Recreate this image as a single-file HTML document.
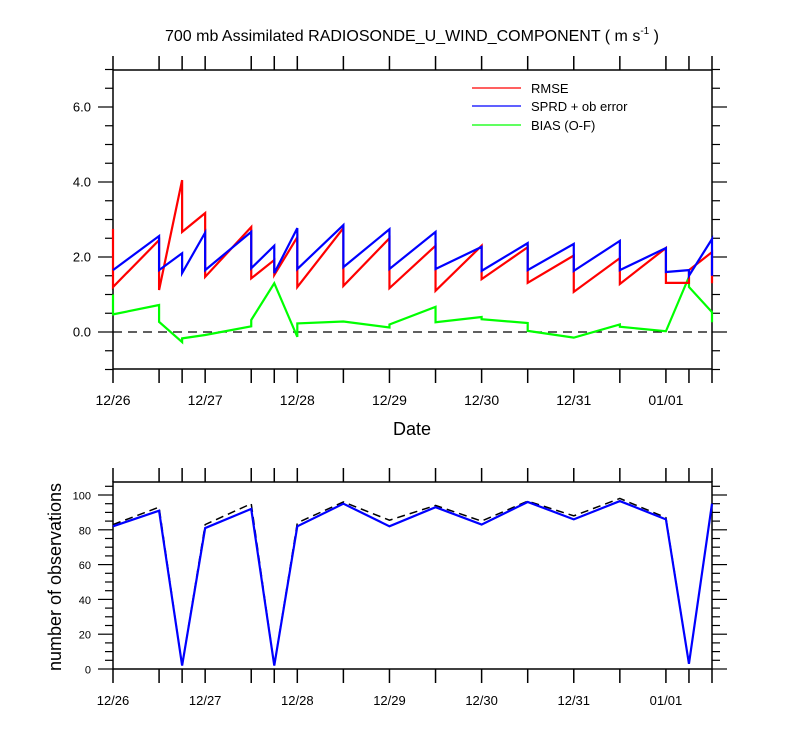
<!DOCTYPE html>
<html><head><meta charset="utf-8">
<style>
body{margin:0;background:#fff;}
svg{display:block;font-family:"Liberation Sans",Arial,sans-serif;}
</style></head>
<body>
<svg id="chart" width="800" height="750" viewBox="0 0 800 750">
<text x="412" y="41" font-size="16" text-anchor="middle">700 mb Assimilated RADIOSONDE_U_WIND_COMPONENT ( m s<tspan font-size="10" dy="-7">-1</tspan><tspan dy="7"> )</tspan></text>
<g id="topPanel"></g>
<g id="botPanel"></g>
<text x="412" y="435" font-size="18" text-anchor="middle">Date</text>
<text transform="translate(61,577) rotate(-90)" font-size="18" text-anchor="middle">number of observations</text>
<g>
<line x1="472" y1="88" x2="521" y2="88" stroke="#f00" stroke-width="1.2"/>
<text x="531" y="93" font-size="13">RMSE</text>
<line x1="472" y1="106" x2="521" y2="106" stroke="#00f" stroke-width="1.2"/>
<text x="531" y="111" font-size="13">SPRD + ob error</text>
<line x1="472" y1="125" x2="521" y2="125" stroke="#0f0" stroke-width="1.2"/>
<text x="531" y="130" font-size="13">BIAS (O-F)</text>
</g>
</svg>
<script>
const times = [0,0.5,0.75,1,1.5,1.75,2,2.5,3,3.5,4,4.5,5,5.5,6,6.25,6.5];
const rmseFcst = [2.75,2.45,4.05,3.17,2.8,1.92,2.53,2.77,2.5,2.3,2.3,2.26,2.04,1.97,2.24,1.31,2.13];
const rmseAnl  = [1.2,1.12,2.67,1.47,1.43,1.52,1.2,1.23,1.17,1.1,1.41,1.31,1.07,1.28,1.31,1.65,1.3];
const sprdFcst = [1.65,2.56,2.1,2.65,2.67,2.3,2.77,2.85,2.74,2.67,2.27,2.37,2.35,2.43,2.24,1.65,2.48];
const sprdAnl  = [1.65,1.65,1.57,1.65,1.7,1.57,1.68,1.73,1.68,1.68,1.63,1.65,1.63,1.65,1.6,1.5,1.5];
const biasFcst = [1.0,0.72,-0.27,-0.08,0.15,1.3,-0.13,0.28,0.12,0.67,0.4,0.24,-0.15,0.2,0.02,1.47,0.53];
const biasAnl  = [0.47,0.27,-0.17,-0.08,0.32,1.3,0.23,0.28,0.2,0.26,0.34,0.03,-0.15,0.14,0.02,1.2,0.26];
const obsAssim = [82,91,2,81,92,2,82,95,82,93,83,96,86,96.5,86,3,95];
const obsTotal = [83,93,2,83,95,2,84,96,85.5,94,85,96.5,88,98,87,3,95];
const dayLabels = ["12/26","12/27","12/28","12/29","12/30","12/31","01/01"];
const topTicks = ["0.0","2.0","4.0","6.0"];
const botTicks = ["0","20","40","60","80","100"];

const NS="http://www.w3.org/2000/svg";
const X0=113,X1=712;
const xs=t=>X0+(X1-X0)*t/6.5;
const yTop=v=>332-37.5*v;
const yBot=v=>669-1.74*v;
function mk(parent,tag,attrs){const e=document.createElementNS(NS,tag);for(const k in attrs)e.setAttribute(k,attrs[k]);parent.appendChild(e);return e;}

function axes(g,yT,yB,yf,tickLabels,minorStep,vmin,vmax,fs,yfs,labY){
  const fr=mk(g,'rect',{x:X0,y:yT,width:X1-X0,height:yB-yT,fill:'none',stroke:'#000','stroke-width':1.5});
  
  
  times.forEach(t=>{
    const x=xs(t);
    const a=mk(g,'line',{x1:x,x2:x,y1:yT-14,y2:yT,stroke:'#000','stroke-width':1.5});
    
    
    const b=mk(g,'line',{x1:x,x2:x,y1:yB,y2:yB+14,stroke:'#000','stroke-width':1.5});
    
    
  });
  dayLabels.forEach((d,i)=>{
    const tx=mk(g,'text',{x:xs(i),y:labY,'font-size':fs,'text-anchor':'middle'});
    tx.textContent=d;
    
    
  });
  for(let v=vmin;v<=vmax+1e-9;v+=minorStep){
    const y=yf(v);
    const major=tickLabels.some(l=>Math.abs(parseFloat(l)-v)<1e-6);
    const len=major?15:8;
    const l1=mk(g,'line',{x1:X0-len,x2:X0,y1:y,y2:y,stroke:'#000','stroke-width':1.2});
    
    
    const l2=mk(g,'line',{x1:X1,x2:X1+len,y1:y,y2:y,stroke:'#000','stroke-width':1.2});
    
    
  }
  tickLabels.forEach(l=>{
    const tx=mk(g,'text',{x:X0-22,y:yf(parseFloat(l))+4.5,'font-size':yfs,'text-anchor':'end'});
    tx.textContent=l;
    
    
  });
}

const topG=document.getElementById('topPanel');
axes(topG,70,369,yTop,topTicks,0.5,-1,7,14,13,405);
const zl=mk(topG,'line',{x1:X0,x2:X1,y1:yTop(0),y2:yTop(0),stroke:'#000','stroke-width':1.3,'stroke-dasharray':'9,6'});


function saw(f,a,color,name){
  let d=`M${xs(times[0])},${yTop(f[0])} L${xs(times[0])},${yTop(a[0])}`;
  for(let i=1;i<times.length;i++){d+=` L${xs(times[i])},${yTop(f[i])} L${xs(times[i])},${yTop(a[i])}`;}
  const p=mk(topG,'path',{d:d,fill:'none',stroke:color,'stroke-width':2.2,'stroke-linejoin':'miter'});
  
  
}
saw(biasFcst,biasAnl,'#0f0','bias-line');
saw(rmseFcst,rmseAnl,'#f00','rmse-line');
saw(sprdFcst,sprdAnl,'#00f','sprd-line');

const botG=document.getElementById('botPanel');
axes(botG,482,669,yBot,botTicks,5,0,105,13,11,705);
function line(vals,attrs,name){
  const d=vals.map((v,i)=>(i?'L':'M')+xs(times[i])+','+yBot(v)).join(' ');
  const p=mk(botG,'path',Object.assign({d:d,fill:'none'},attrs));
  
  
}
line(obsTotal,{stroke:'#000','stroke-width':1.5,'stroke-dasharray':'8,5'},'obs-total-line');
line(obsAssim,{stroke:'#00f','stroke-width':2.2},'obs-assimilated-line');
</script>
</body></html>
